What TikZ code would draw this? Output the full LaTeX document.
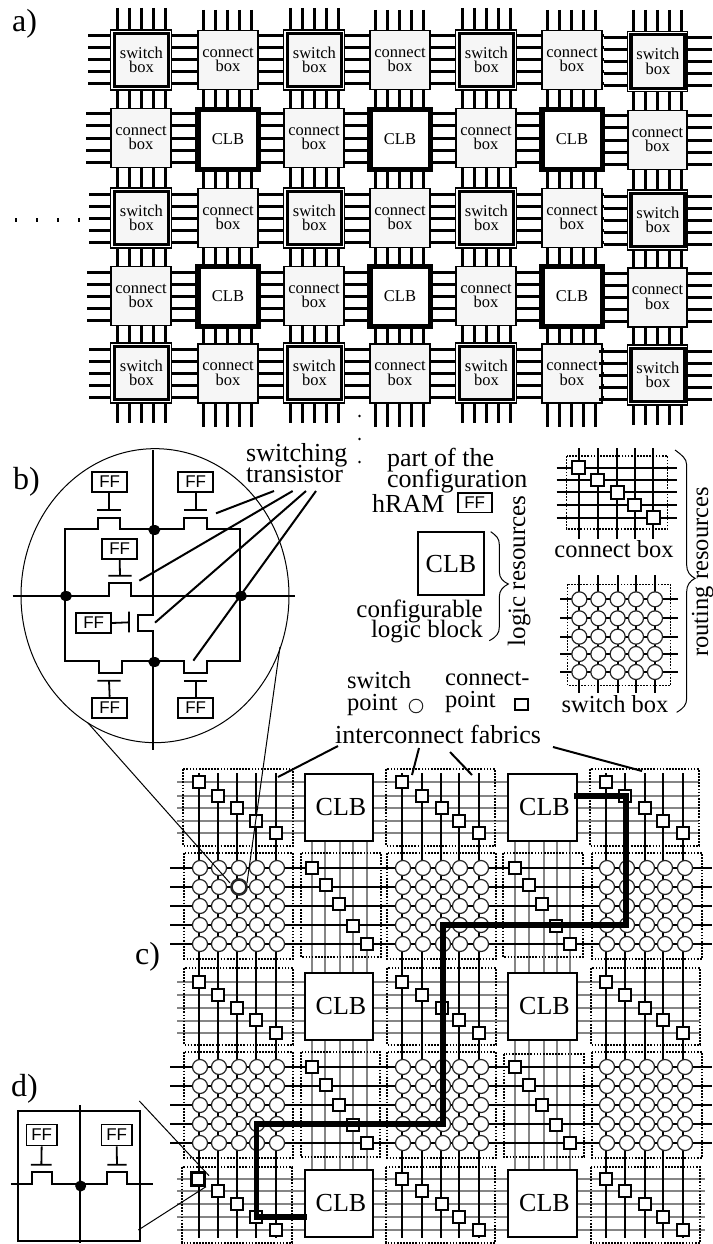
\documentclass[tikz,border=0pt]{standalone}
\usepackage{fontspec}
\usetikzlibrary{shapes.geometric}
\setmainfont{Liberation Serif}
\newfontfamily\ffsans{Liberation Sans}
\definecolor{boxgray}{HTML}{F6F6F6}
\definecolor{wiregray}{HTML}{858585}
\lineskiplimit=-100pt
\tikzset{
  awire/.style={line width=3pt},
  cellbox/.style={draw,inner sep=0pt,align=center,font=\fontsize{16.5}{14.7}\selectfont},
  cnbox/.style={cellbox,fill=boxgray,line width=1.7pt,minimum width=59.5pt,minimum height=59pt},
  swouter/.style={draw,fill=white,line width=1.3pt,minimum width=60.5pt,minimum height=60pt,inner sep=0pt},
  swinner/.style={cellbox,fill=boxgray,line width=3.3pt,minimum width=54pt,minimum height=53.5pt},
  clbbig/.style={cellbox,fill=white,line width=5.5pt,minimum width=60.5pt,minimum height=60pt},
  clbc/.style={draw,fill=white,line width=1.9pt,inner sep=0pt,font=\fontsize{26}{26}\selectfont},
  ffbox/.style={draw,line width=1.8pt,inner sep=0pt,font=\ffsans\fontsize{17}{17}\selectfont},
  wire/.style={line width=1.8pt},
  thinl/.style={line width=1pt},
  leader/.style={line width=2pt},
  jn/.style={ellipse,fill=black,inner sep=0pt,minimum width=12pt,minimum height=10pt},
  dotbox/.style={draw,line width=1.4pt,dash pattern=on 1.7pt off 1.4pt},
  sq/.style={draw,fill=white,line width=1.9pt,inner sep=0pt,minimum size=12.5pt},
  ci/.style={circle,draw=black!85,fill=white,line width=1.2pt,inner sep=0pt,minimum size=15pt},
  gw/.style={draw=wiregray,line width=1.7pt},
  bw/.style={line width=1.6pt},
  bold/.style={line width=5.2pt,line join=miter},
  big/.style={inner sep=0pt,anchor=base west,font=\fontsize{32}{32}\selectfont},
  lab/.style={inner sep=0pt,font=\fontsize{26}{21}\selectfont},
  labs/.style={inner sep=0pt,font=\fontsize{24.5}{21.5}\selectfont},
  zoomb/.style={shift={(0pt,-430pt)},x=0.33333pt,y=-0.33333pt},
}
\newcommand{\swcell}[3]{\node[swouter] (#1o) at (#2,#3) {};\node[swinner] (#1) at (#2+0.4,#3) {switch\\box};}
\newcommand{\cncell}[3]{\node[cnbox] (#1) at (#2,#3) {connect\\box};}
\newcommand{\clbcell}[3]{\node[clbbig] (#1) at (#2,#3) {CLB};}
\begin{document}
\begin{tikzpicture}[x=1pt,y=-1pt]
\useasboundingbox (0,0) rectangle (712,1244);
\fill[white] (0,0) rectangle (712,1244);

% ---------- a) ----------
\node[big] (la) at (12,32) {a)};
% horizontal wires of part a
\foreach \y/\xs in {60/88,138/86,218/89,296/87,373/89}
  \foreach \d in {-24,-12,0,12,24}
    \draw[awire] (\xs,\y+\d) -- (604,\y+\d);
\foreach \y in {61.5,140,220,297.5,375}
  \foreach \d in {-24,-12,0,12,24}
    \draw[awire] (604,\y+\d) -- (712,\y+\d);
% vertical wires of part a
\foreach \x/\t/\b in {141/8/423,227.5/10/427,314/8/423,399/10/427,486/8/423,571/10/427,657/10/425}
  \foreach \d in {-24,-12,0,12,24}
    \draw[awire] (\x+\d,\t) -- (\x+\d,\b);
% cells
\swcell{a11}{141}{60}\cncell{a12}{228}{60}\swcell{a13}{314}{60}\cncell{a14}{400}{60}\swcell{a15}{486}{60}\cncell{a16}{572}{60}\swcell{a17}{657.5}{61.5}
\cncell{a21}{141}{138}\clbcell{a22}{228}{139.5}\cncell{a23}{314}{138}\clbcell{a24}{400}{139.5}\cncell{a25}{486}{138}\clbcell{a26}{572}{139.5}\cncell{a27}{657.5}{140}
\swcell{a31}{141}{218}\cncell{a32}{228}{218}\swcell{a33}{314}{218}\cncell{a34}{400}{218}\swcell{a35}{486}{218}\cncell{a36}{572}{218}\swcell{a37}{657.5}{220}
\cncell{a41}{141}{296}\clbcell{a42}{228}{296.5}\cncell{a43}{314}{296}\clbcell{a44}{400}{296.5}\cncell{a45}{486}{296}\clbcell{a46}{572}{296.5}\cncell{a47}{657.5}{297.5}
\swcell{a51}{141}{373}\cncell{a52}{228}{373.5}\swcell{a53}{314}{373}\cncell{a54}{400}{373.5}\swcell{a55}{486}{373}\cncell{a56}{572}{373.5}\swcell{a57}{657.5}{375}
\foreach \d in {-24,-12,0,12,24} \draw[awire] (599,375+\d) -- (606,375+\d);
% ellipsis marks
\foreach \x in {16,37,58,79} \draw[line width=1.7pt] (\x,218) -- (\x,222);
\foreach \y in {416,439,462} \fill (359.5,\y) circle (1.3pt);

% ---------- b) ----------
\node[big] (lb) at (13,489) {b)};
\node[lab,align=left,anchor=north west] (ltrans) at (246,443.5) {switching\\transistor};
\begin{scope}[zoomb]
  \coordinate (ec) at (465,497);
  \draw[thinl] (ec) ellipse [x radius=134pt,y radius=147pt];
  \draw[wire] (460,60) -- (460,960);
  \draw[wire] (38,497) -- (327,497) -- (327,460) -- (393,460) -- (393,497) -- (885,497);
  % ring with transistors
  \draw[wire] (195,497) -- (195,298) -- (295,298) -- (295,265) -- (360,265) -- (360,298) -- (552,298) -- (552,265) -- (622,265) -- (622,298) -- (720,298) -- (720,692)
     -- (622,692) -- (622,730) -- (552,730) -- (552,692) -- (365,692) -- (365,730) -- (297,730) -- (297,692) -- (195,692) -- (195,497);
  % vertical transistor
  \draw[line width=2.4pt,white] (460,559) -- (460,599);
  \draw[wire] (460,555) -- (415,555) -- (415,603) -- (460,603);
  % FF blocks and gates
  \node[ffbox,minimum width=35pt,minimum height=20pt] (ff1) at (329,156) {FF};
  \draw[wire] (292,240) -- (362,240) (327,240) -- (ff1.south -| 327,0);
  \node[ffbox,minimum width=35pt,minimum height=20pt] (ff2) at (587,156) {FF};
  \draw[wire] (552,240) -- (622,240) (587,240) -- (ff2.south);
  \node[ffbox,minimum width=35pt,minimum height=20pt] (ff3) at (359,356) {FF};
  \draw[wire] (325,437) -- (395,437) (360,437) -- (ff3.south);
  \node[ffbox,minimum width=35pt,minimum height=20pt] (ff4) at (281,579) {FF};
  \draw[wire] (387,545) -- (387,607) (387,577) -- (ff4.east);
  \node[ffbox,minimum width=35pt,minimum height=20pt] (ff5) at (329,833) {FF};
  \draw[wire] (292,752) -- (362,752) (327,752) -- (ff5.north);
  \node[ffbox,minimum width=35pt,minimum height=20pt] (ff6) at (587,833) {FF};
  \draw[wire] (552,752) -- (622,752) (587,752) -- (ff6.north);
  % junction dots
  \node[jn] (j1) at (463,300) {};
  \node[jn] (j2) at (198,498) {};
  \node[jn] (j3) at (723,498) {};
  \node[jn] (j4) at (463,696) {};
  % leaders from label
  \coordinate (t1) at (822,183); \coordinate (t2) at (878,183); \coordinate (t3) at (918,183); \coordinate (t4) at (948,183);
  \coordinate (e1) at (648,250); \coordinate (e2) at (418,452); \coordinate (e3) at (465,578); \coordinate (e4) at (580,692);
  \draw[leader] (t1) -- (e1) (t2) -- (e2) (t3) -- (e3) (t4) -- (e4);
\end{scope}

% ---------- legend ----------
\node[lab,align=left,anchor=north west] (lpart) at (387,448) {part of the\\configuration};
\node[lab,anchor=base west] (lhram) at (372,512) {hRAM};
\begin{scope}[shift={(340pt,-430pt)},x=0.33333pt,y=-0.33333pt]
  \node[ffbox,minimum width=34pt,minimum height=19.5pt] (ffl) at (404,218) {FF};
  \node[draw,line width=1.8pt,inner sep=0pt,minimum width=66pt,minimum height=63pt,font=\fontsize{26}{26}\selectfont] (clbl) at (333,401) {CLB};
  % logic brace
  \draw[line width=1pt] (452,305) .. controls (470,318) and (478,325) .. (478,345) -- (478,425) .. controls (478,445) and (490,455) .. (505,462)
     .. controls (490,470) and (478,480) .. (478,500) -- (478,590) .. controls (478,610) and (470,620) .. (448,632);
  % connect box legend
  \foreach \y in {113,150,187,225,263} \draw[wire] (650,\y) -- (1010,\y);
  \foreach \x in {716,773,832,885,940} \draw[wire] (\x,55) -- (\x,328);
  \draw[dotbox] (680,78) rectangle (983,297);
  \foreach \x/\y in {716/113,773/150,832/187,883/225,940/263} \node[sq] (lc\x) at (\x,\y) {};
  % switch box legend
  \foreach \y in {508,565,620,672,726} \draw[wire] (660,\y) -- (1015,\y);
  \foreach \x in {718,775,833,888,945} \draw[wire] (\x,435) -- (\x,790);
  \draw[dotbox] (683,463) rectangle (992,766);
  \foreach \x in {718,775,833,888,945}
    \foreach \y in {508,565,620,672,726} \node[ci] (ls\x-\y) at (\x,\y) {};
  % routing brace
  \draw[line width=1pt] (1005,60) .. controls (1025,75) and (1040,85) .. (1040,105) -- (1040,405) .. controls (1040,425) and (1050,437) .. (1065,445)
     .. controls (1050,453) and (1040,465) .. (1040,485) -- (1040,805) .. controls (1040,825) and (1030,835) .. (1010,847);
  \node[ci,line width=1pt,minimum size=13.5pt] (lcirc) at (228,828) {};
  \node[draw,fill=white,line width=2pt,inner sep=0pt,minimum width=12.5pt,minimum height=10.5pt] (lsq) at (544,824) {};
\end{scope}
\node[lab,align=right,anchor=north east,font=\fontsize{25}{20.5}\selectfont] (lcfg) at (483,599.5) {configurable\\logic block};
\node[lab,rotate=90,anchor=base,font=\fontsize{25}{25}\selectfont] (llog) at (525,571) {logic resources};
\node[labs,anchor=base] (lcn) at (614,557) {connect box};
\node[labs,anchor=base] (lsw) at (615,712) {switch box};
\node[labs,rotate=90,anchor=base] (lrout) at (708,572) {routing resources};
\node[labs,align=left,anchor=north west] (lsp) at (347,671.5) {switch\\point};
\node[labs,align=left,anchor=north west] (lcp) at (445,671.5) {connect-\\point};
\node[lab,anchor=base west] (lfab) at (335,743) {interconnect fabrics};
\coordinate (f1s) at (338,746); \coordinate (f1e) at (278,777);
\coordinate (f2s) at (419,748); \coordinate (f2e) at (412,775);
\coordinate (f3s) at (450,752); \coordinate (f3e) at (472,775);
\coordinate (f4s) at (553,747); \coordinate (f4e) at (642,771);
\draw[leader] (f1s) -- (f1e) (f2s) -- (f2e) (f3s) -- (f3e) (f4s) -- (f4e);

% ---------- c) ----------
\node[big] (lc) at (135,964) {c)};
% grey wires
\foreach \a/\b/\c/\d/\e/\r in {782/796/808/821/833/699,982/995/1008/1021/1033/700,1179/1191/1204/1217/1230/705}
  \foreach \y in {\a,\b,\c,\d,\e} \draw[gw] (177,\y) -- (\r,\y);
\foreach \x in {312,325,340,353,367,515,529,544,557,570} {
  \draw[gw] (\x,841) -- (\x,973);
  \draw[gw] (\x,1040) -- (\x,1170);
}
% dotted outlines
\foreach \l/\t/\r/\b in {183/769/293/846,386/769/495/846,590/769/699/846,
  184/853/293/959,301/853/381/957,387/853/496/959,503/853/583/957,592/853/702/959,
  184/968/293/1045,387/968/496/1045,591/968/700/1045,
  184/1052/293/1158,301/1052/380/1157,387/1052/496/1158,504/1054/584/1157,592/1052/702/1158,
  182/1167/292/1243,386/1167/495/1243,591/1167/700/1243}
  \draw[dotbox] (\l,\t) rectangle (\r,\b);
% black wires
\foreach \y in {868,887,906,925,944,1067,1086,1105,1124,1143} \draw[bw] (170,\y) -- (712,\y);
\foreach \x in {199,218,237,256,276,402,422,441,459,479,606,625,645,663,683} \draw[bw] (\x,773) -- (\x,1238);
% CLBs
\foreach \n/\xa/\xb/\ya/\yb in {1/305/373/774/841,2/508/577/774/841,3/305/373/973/1040,4/508/577/973/1040,5/305/373/1170/1237,6/508/577/1170/1237} {
  \pgfmathsetmacro{\w}{\xb-\xa}\pgfmathsetmacro{\h}{\yb-\ya}
  \node[clbc,minimum width=\w pt,minimum height=\h pt] (c\n) at ({(\xa+\xb)/2},{(\ya+\yb)/2}) {\hspace*{4pt}CLB};
}
% switch points
\foreach \y in {868,887,906,925,944,1067,1086,1105,1124,1143}
  \foreach \x in {200,219,239,257,277,403,423,443,460,481,607,627,647,665,685}
    \node[ci] (p\x-\y) at (\x,\y) {};
\node[ci,line width=2.6pt,minimum size=15pt] (hot) at (239,887) {};
% connect points
\foreach \y/\a/\b/\c/\d/\e in {0/782/796/808/821/833,1/982/995/1008/1020/1033,2/1179/1191/1204/1217/1230} {
  \foreach \x/\yy in {199/\a,218/\b,237/\c,256/\d,276/\e,402/\a,422/\b,442/\c,459/\d,479/\e,606/\a,625/\b,645/\c,663/\d,683/\e}
    \node[sq] (q\x-\yy) at (\x,\yy) {};
}
\foreach \x/\d in {0/868,14/885,27/904,41/926,55/944}{ \node[sq] (r\x-\d) at (312+\x,\d) {}; \node[sq] (s\x-\d) at (515+\x,\d) {}; }
\foreach \x/\d in {0/1067,14/1085,27/1105,41/1125,55/1143}{ \node[sq] (r\x-\d) at (312+\x,\d) {}; \node[sq] (s\x-\d) at (515+\x,\d) {}; }
\node[sq,line width=3.2pt] (hotq) at (198,1179) {};
% zoom lines to b) and d)
\coordinate (zb1) at (88,723); \coordinate (zb2) at (230,883);
\coordinate (zb3) at (280,647); \coordinate (zb4) at (247,883);
\draw[thinl] (zb1) -- (zb2) (zb3) -- (zb4);
% bold route
\coordinate (ra) at (574,796); \coordinate (rb) at (626,796); \coordinate (rc) at (626,925); \coordinate (rd) at (443,925);
\coordinate (re) at (443,1124); \coordinate (rf) at (256.5,1124); \coordinate (rg) at (256.5,1217); \coordinate (rh) at (307,1217);
\draw[bold] (ra) -- (rb) -- (rc) -- (rd) -- (re) -- (rf) -- (rg) -- (rh);

% ---------- d) ----------
\node[big] (ld) at (11,1096) {d)};
\begin{scope}[shift={(0pt,-1000pt)},x=0.33333pt,y=-0.33333pt]
  \draw[wire] (53,333) rectangle (420,722);
  \draw[wire] (240,315) -- (240,730);
  \draw[wire] (33,553) -- (95,553) -- (95,517) -- (155,517) -- (155,553) -- (320,553) -- (320,517) -- (382,517) -- (382,553) -- (458,553);
  \node[ffbox,minimum width=30.5pt,minimum height=21pt] (fd1) at (125,405) {FF};
  \draw[wire] (93,494) -- (155,494) (124,494) -- (fd1.south);
  \node[ffbox,minimum width=30.5pt,minimum height=21pt] (fd2) at (350,405) {FF};
  \draw[wire] (322,494) -- (380,494) (351,494) -- (fd2.south);
  \node[jn,minimum width=11pt,minimum height=11pt] (jd) at (242,558) {};
  \coordinate (zd1) at (418,303); \coordinate (zd2) at (627,527); \coordinate (zd3) at (415,690); \coordinate (zd4) at (618,560);
  \draw[thinl] (zd1) -- (zd2) (zd3) -- (zd4);
\end{scope}
\end{tikzpicture}
\end{document}
